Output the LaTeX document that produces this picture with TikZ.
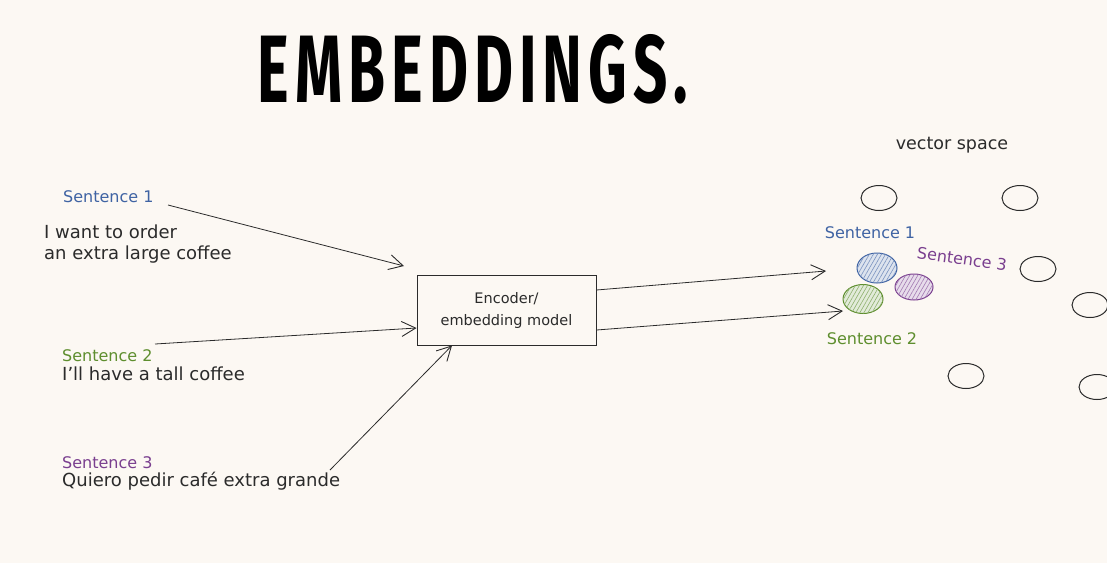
\documentclass[tikz,border=0pt]{standalone}
\usepackage{fontspec}
\setmainfont{DejaVu Sans}
\newfontfamily\titlefont[LetterSpace=10]{Fira Sans}
\usetikzlibrary{arrows.meta,positioning,patterns.meta}

\definecolor{paper}{HTML}{FCF8F3}
\definecolor{ink}{HTML}{2B2B2B}
\definecolor{sblue}{HTML}{3F63A3}
\definecolor{sgreen}{HTML}{5E8E2E}
\definecolor{spurple}{HTML}{7A3F8F}

\begin{document}
\begin{tikzpicture}[
    x=1pt, y=-1pt,
    label text/.style={font=\fontsize{16}{19}\selectfont, inner sep=0pt, anchor=west},
    plain text/.style={label text, font=\fontsize{18}{21}\selectfont, text=ink},
    model box/.style={draw=ink, line width=0.9pt, minimum width=179pt, minimum height=70pt,
        align=center, font=\fontsize{14.5}{22}\selectfont, text=ink},
    flow/.style={draw=ink, line width=0.8pt, -{Straight Barb[length=14pt, width=15pt, line width=0.9pt]}},
    point/.style={draw=ink, line width=1pt},
    dot/.style={draw=#1, line width=1pt, fill=#1!18,
        postaction={pattern={Lines[angle=60, distance=3.5pt, line width=0.6pt]}, pattern color=#1!70}}
]

% Background and frame
\fill[paper] (0,0) rectangle (1107,563);
\useasboundingbox (0,0) rectangle (1107,563);

% Title
\node (title) at (473,69) {\resizebox{430pt}{68pt}{\titlefont\bfseries EMBEDDINGS.}};

% Input sentences
\node[label text, text=sblue] (s1) at (63,197) {Sentence 1};
\node[plain text] (t1a) at (44,232) {I want to order};
\node[plain text] (t1b) at (44,255) {an extra large coffee};
\node[label text, text=sgreen] (s2) at (62,356) {Sentence 2};
\node[plain text] (t2) at (62,374) {I'll have a tall coffee};
\node[label text, text=spurple] (s3) at (62,463) {Sentence 3};
\node[plain text] (t3) at (62,481) {Quiero pedir café extra grande};

% Model
\node[model box] (model) at (506.5,310) {Encoder/\\embedding model};

% Vector space
\node[font=\fontsize{17.5}{20}\selectfont, text=ink] (vs) at (952,145) {vector space};
\node[label text, text=sblue, anchor=center] (v1) at (870,233) {Sentence 1};
\node[label text, text=spurple, anchor=center, rotate=-8] (v3) at (962,259) {Sentence 3};
\node[label text, text=sgreen, anchor=center] (v2) at (872,339) {Sentence 2};

\foreach \px/\py in {879/198, 1020/198, 1038/269, 1090/305, 966/376, 1097/387}
    \draw[point] (\px,\py) ellipse [x radius=18, y radius=12.5];

\draw[dot=sblue] (877,268) ellipse [x radius=20, y radius=15];
\draw[dot=spurple] (914,287) ellipse [x radius=19, y radius=13];
\draw[dot=sgreen] (863,299) ellipse [x radius=20, y radius=14.5];

% Connectors
\coordinate (a1) at (168,205);
\coordinate (a3) at (330,470);
\coordinate (in1) at (404,266);
\coordinate (out1) at (826,271);
\coordinate (out2) at (843,311);
\draw[flow] (a1) -- (in1);
\draw[flow] (155,344) coordinate (a2) -- (model.west |- 0,328);
\draw[flow] (a3) -- (model.south -| 452,0);
\draw[flow] (model.east |- 0,290) -- (out1);
\draw[flow] (model.east |- 0,330) -- (out2);

\end{tikzpicture}
\end{document}
